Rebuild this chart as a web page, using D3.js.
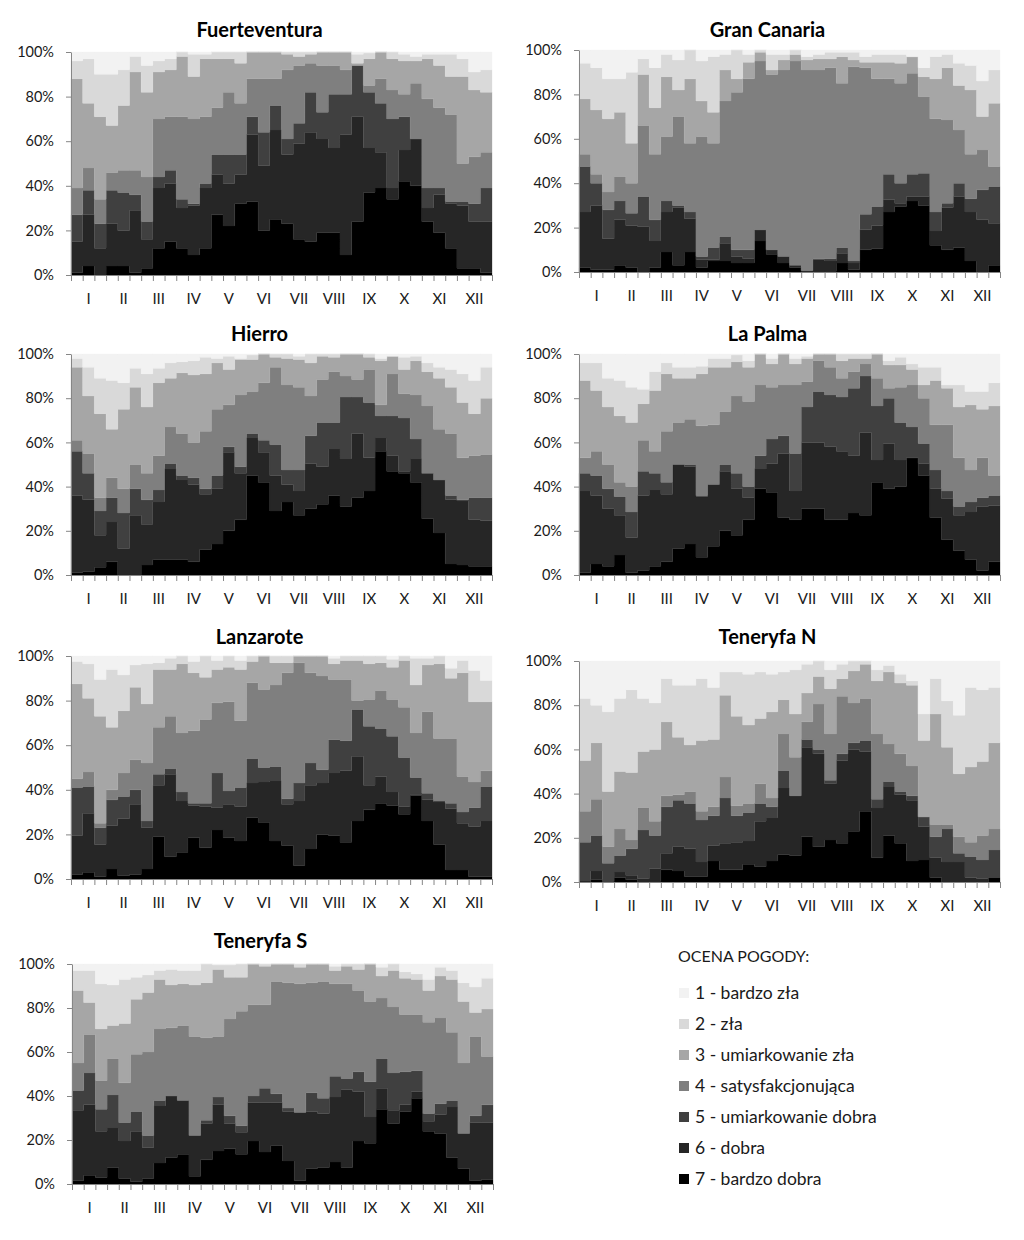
<!DOCTYPE html>
<html><head><meta charset="utf-8">
<script src="https://cdn.jsdelivr.net/npm/d3@7"></script>
<style>
body{margin:0;background:#fff;}
svg{display:block;font-family:Lato,"Open Sans",sans-serif;}
</style>
</head><body>
<svg id="chart" width="1024" height="1240"></svg>
<script>
// ---- tick labels & categories ----
const months = ["I","II","III","IV","V","VI","VII","VIII","IX","X","XI","XII"];
const yTicks = [0,20,40,60,80,100];
const categories = ["1 - bardzo zła","2 - zła","3 - umiarkowanie zła","4 - satysfakcjonująca","5 - umiarkowanie dobra","6 - dobra","7 - bardzo dobra"];
const colors = ["#f2f2f2","#d9d9d9","#a6a6a6","#7f7f7f","#404040","#262626","#000000"];

// ---- data: 36 dekads per island; cumulative share (%) from the bottom,
// rows = top of category 7, 6, 5, 4, 3, 2 (category 1 fills up to 100%) ----
const fuerteventura = [
 [1,4,0,4,4,1,3,12,15,12,9,12,27,22,32,33,20,25,23,16,15,19,19,9,24,37,39,34,42,40,24,19,12,3,3,1],
 [15,27,12,23,20,29,16,39,41,30,31,39,45,41,45,63,49,65,54,59,64,61,57,63,71,57,55,39,56,61,30,36,32,31,24,24],
 [27,38,23,38,37,36,24,44,47,34,32,41,54,54,54,71,64,76,61,68,82,73,81,81,94,82,77,70,71,61,39,39,33,33,32,39],
 [39,48,34,46,47,47,44,70,71,71,70,71,75,82,77,88,88,88,92,94,95,94,94,92,94,85,88,83,81,86,79,75,72,50,53,55],
 [88,77,71,67,76,91,82,91,92,98,89,97,97,97,95,100,100,100,99,98,99,100,100,100,95,97,100,97,96,96,97,94,89,89,83,82],
 [96,97,90,90,92,98,94,96,97,100,99,99,100,100,100,100,100,100,100,100,100,100,100,100,99,99.5,100,100,99,98,99,99,99,97,91,92]
];
const granCanaria = [
 [2,1,1,3,2,0,2,9,3,9,2,5,5,4,4,14,8,4,2,0.3,0.3,0.3,4,1,10,10.5,27,29.5,32,30,12,10,11,5,0,3],
 [27,30,15,23.5,21,20.5,14,27,29,24,5.5,5.5,13,7,6,19,10,7,3,0.6,5.5,5,8.5,4,19,21,32.5,31,34,34,18.5,29,34,27,23.5,22],
 [47.5,40,28,32,26.5,34,23.5,32,30,27,7,11,16,10,10,19,10,7,3,0.6,6,6,11,5,26,29.5,44,40,44,44.5,27,31,40,33,37,38.5],
 [53,44,36,43,40,66,53,61,70,58,61,58,77,81,87,95,89,91,95,91,91,92,85,92.5,92,87,87,85,89.5,79,69,68.5,64,53,55,47.5],
 [78,73,69,72,58,89,74,88,82,87,77,72,91,87,94.5,99,91,95.5,98,95.5,96,96,97,95.5,94.5,94.5,94.5,94,97,88,87,92,84,82,70,76],
 [94,92,87,87,90,96,92,98,95.5,100,95,97,98,100,98,100,98,98,100,97,98,99,99,99,97,98,98,98,97,92,97,98,94,93,86,91]
];
const hierro = [
 [1,1.5,3.5,6,0,0,4.5,7,7,7,6,11.5,14,20,25,45,42,29,33,27,30,32,36,31,35,38,56,47,46,42,25.5,19,5,4.5,4,4],
 [36,34,18,24,12,27,23,33,48,43,41,36.5,39,55.5,46,62,55.5,45,41,38,50.5,49,57,52.5,64,53,62,54,47,52.5,46,43,34,33.5,25,24.5],
 [56,46,29,35,28,39,34,38.5,50.5,45,44,39,45,58,49,64,61,59,47.5,47.5,63,69,69,80.5,80.5,78,72,72,71,61.5,46,43,36,34,35,35],
 [61,55,35,44,39,50,46,54,67,64,60,65,75,77,81.5,83,87,94,86,85,81,88.5,92,90,88.5,93,77,91,82,81.5,76.5,66,64,53,54,54.5],
 [94,81,73,66,75,85,76,87,89,91.5,90.5,91,96,93,97.5,97.5,100,98.5,98,97.5,96,99,98.5,100,100,98.5,97,99,93,97,92,89,85,78,73,80],
 [98,94,89,88,87,93.5,91,93.5,96,96.5,97,98.5,98,99,98,99.5,100,100,100,99,100,100,100,100,100,100,98,99,98.5,99,96,94,93,91,88,94]
];
const laPalma = [
 [1,5,4,9,1,2,4,6,12,14,8,13,20,18,25,39,37.5,26,25,30,30,25,25,28,27,42,39,40,53,45,26,16,11,7,2,6],
 [38,36,30,27,17,36,38.5,36.5,50,49,35.5,41,47,39,35,48,50.5,55,38,60,60,58,56,54,64.5,52,59.5,52,53,50.5,39,34.5,27,28.5,31,31.5],
 [46,45,39,35.5,28.5,47,46,42,50,50,36,41,50,46,40,54,61.5,63,55,76,83,81.5,80.5,84.5,90,76.5,80,69,67,59.5,47.5,38,31,33,35,36],
 [53,56,50,42,40,61,56,65,69,70.5,67.5,68,74,81,78.5,86,85,86,86,87.5,97,94,89,92,95.5,89,84.5,85,86,80,68,68,53,47.5,53,45],
 [88,83.5,76,72,69,77.5,83.5,91,89,89,91,94,94,96.5,94,100,95.5,100,95.5,98,100,100,97,98,98,100,95,95,93,86,88,84.5,76,77,75,76.5],
 [96,96,89,88,85,84,92,96,94,94,94.5,98,98,99.5,97,100,98,100,98,99,100,100,100,100,100,100,97,98.5,95.5,94,94,86,86,83,83,87]
];
const lanzarote = [
 [2,3,1,4.5,1.5,2,4.5,19,10,12,18.5,14,22,18.5,17,27.5,25.5,17,15,6,13.5,20,19.5,16.5,26,31,34,33,29,37.5,26,15.5,4,4,1,1],
 [19.5,29.5,15.5,24,27,33.5,23,42,47,35,33,32.5,32,33.5,32.5,43,43.5,44,33.5,35,42,43,47.5,48.5,55,42,46,39,32.5,38,35.5,34.5,31.5,25,23.5,26],
 [41,41.5,23,35.5,37,40,26,47,49.5,39,34,34,47.5,39.5,41,54,50,50.5,36,43,52,49,62.5,62,76,68.5,67.5,64,54.5,45.5,38.5,35,34,30,32,41.5],
 [45,48,25,40,47.5,53.5,52,68,73,65.5,66.5,71.5,79,79.5,71,88,85,87,92.5,97,92.5,91,89.5,89.5,80,80.5,84.5,80.5,77,65.5,75,63,63,46,43.5,48.5],
 [87.5,81,73,68,75.5,86,78.5,94,94,96.5,92.5,90.5,94,95,94,97.5,100,97,97,100,100,100,96.5,98,98,96.5,97,95,98,87,96,96.5,90,92.5,79.5,79.5],
 [97.5,96.5,89.5,94,91.5,96,96.5,97,99,100,97.5,100,98,100,98,100,100,100,100,100,100,100,99,100,100,100,100,98.5,100,99,99,100,94.5,98,93.5,89]
];
const teneryfaN = [
 [0,1,0,2,1,0,0.3,5.5,5,2.5,2.5,9.5,5.5,5.5,8,7,9.5,12.5,12,20.5,16,19,17.5,23,32,11,21,17.5,9.5,10,2,0,0,0,0,2],
 [0.5,5,0.3,4.5,3,1.5,6,13,16,15,9,16.5,17.5,18,18.5,27.5,29,42.5,39,61,58,44.5,55,60,59,33.5,43,39.5,37,25,11,9,9,2,1.5,2],
 [18,21,8.5,12,15,23.5,21,34,37,35.5,28,30,38,30,31.5,35.5,34,50.5,39,64.5,60,46,58,63,64,37.5,45.5,41,39,29.5,20.5,24,13,11.5,10,14.5],
 [32,37.5,16,24,19,33.7,27.5,39,39.5,41,32,34,47.5,34.5,35.5,44.5,38,67,56.5,72.5,80.5,67,84,81,83,67,62.5,58,52.5,29.5,26,26,20.5,18,21,24],
 [55,63,41,50,49.5,59,60,72.5,65.5,62,64,64.5,84.5,75,71,74,77,82.5,76,85.5,93,87.5,92,95.5,98.5,91,95,90,89,64,76,61,49,52,54.5,63],
 [83,80,77,83,87,83,81,92,89,89,92,88,95,95,94,95,94,95,96,98.5,100,96,98.5,100,100,96,98,94,91,76,92,82,75.5,88,87,88]
];
const teneryfaS = [
 [1.5,4,3,7.5,2.5,1,2.5,9.5,12,13.5,3.5,11,15,16,13.5,19.5,14.5,17.5,10.5,1.5,7,7.5,10,7.5,19.5,18.5,34,27.5,33,39,24,23,12,7,1.5,2],
 [33.5,36,24,25.5,19.5,24,16.5,35.5,40,38,22,27.5,36,27.5,23.5,37,37,37,33,32.5,33,32,39.5,43,42,30.5,43.5,33.5,36,42,28.5,31.5,35,23,28,28],
 [42.5,50.5,34,40.5,28,33,22,38,40,38,22,29,39.5,31,26.5,40,43.5,41,34.5,32.5,41.5,39,49,48,51,46.5,57,50.5,51,51.5,32,36.5,38,23,31,36],
 [55,68,47,57,46,59,60,70.5,71,72,67,66.5,67,75,78.5,81.5,81.5,92,91.5,91,91.5,92,91,91,88,83,84.5,80.5,77,77,73.5,75.5,69,55,67,58],
 [88,82.5,70.5,72,73,84,87,93,90.5,91,90.5,91.5,97.5,94,94,100,99,100,100,98.5,100,100,97,99,97.5,100,94.5,97,93.5,93,88,94.5,93,83,78,79.5],
 [97,97,91,90.5,93,94,95,97,97.5,97,97,100,99.5,99.5,100,100,100,100,100,100,100,100,99,100,100,100,98.5,100,96.5,95.5,93,98.5,97,91.5,89.5,93.5]
];

// ---- layout (positions only) ----
const panels = [
 {title:"Fuerteventura", data:fuerteventura, x0:71,  x1:492,  yt:52,  yb:275, ty:37},
 {title:"Gran Canaria",  data:granCanaria,   x0:579, x1:1000, yt:50,  yb:272, ty:37},
 {title:"Hierro",        data:hierro,        x0:71,  x1:492,  yt:354, yb:575, ty:341},
 {title:"La Palma",      data:laPalma,       x0:579, x1:1000, yt:354, yb:575, ty:341},
 {title:"Lanzarote",     data:lanzarote,     x0:71,  x1:492,  yt:656, yb:879, ty:644},
 {title:"Teneryfa N",    data:teneryfaN,     x0:579, x1:1000, yt:661, yb:882, ty:644},
 {title:"Teneryfa S",    data:teneryfaS,     x0:72,  x1:493,  yt:964, yb:1184,ty:948}
];

const svg = d3.select("#chart");
const keys = ["7","6","5","4","3","2","1"];
const colorOf = k => colors[+k - 1];
const axisColor = "#868686";

panels.forEach(p => {
  const n = p.data[0].length;
  const x = d3.scaleLinear().domain([0, n]).range([p.x0, p.x1]);
  const y = d3.scaleLinear().domain([0, 100]).range([p.yb, p.yt]);
  // derive shares of each category from cumulative boundaries
  const rows = d3.range(n).map(i => {
    const c = p.data.map(r => r[i]);
    const bounds = [0, ...c, 100];
    const o = {i};
    keys.forEach((k, j) => { o[k] = Math.max(0, bounds[j+1] - d3.max(bounds.slice(0, j+1))); });
    return o;
  });
  const series = d3.stack().keys(keys)(rows);
  const area = d3.area()
    .x(d => x(d.i))
    .y0(d => y(d.v0))
    .y1(d => y(d.v1))
    .curve(d3.curveStepAfter);
  const g = svg.append("g");
  series.forEach(s => {
    const pts = s.map((d, i) => ({i, v0: d[0], v1: d[1]}));
    pts.push({i: n, v0: s[n-1][0], v1: s[n-1][1]});
    g.append("path").attr("d", area(pts)).attr("fill", colorOf(s.key))
      .attr("stroke", colorOf(s.key)).attr("stroke-width", 0.3);
  });

  // y axis
  const ya = g.append("g").attr("transform", `translate(${p.x0},0)`)
    .call(d3.axisLeft(y).tickValues(yTicks).tickFormat(d => d + "%").tickSize(5).tickSizeOuter(0).tickPadding(12));
  ya.select(".domain").attr("stroke", axisColor);
  ya.selectAll(".tick line").attr("stroke", axisColor);
  ya.selectAll(".tick text").attr("font-size", 14.5).attr("fill", "#1a1a1a").attr("font-family", "Lato, sans-serif");

  // x axis
  const xa = g.append("g").attr("transform", `translate(0,${p.yb})`)
    .call(d3.axisBottom(x).tickValues(d3.range(0, n + 1)).tickFormat("").tickSize(6).tickSizeOuter(0));
  xa.select(".domain").attr("stroke", axisColor);
  xa.selectAll(".tick line").attr("stroke", axisColor);
  months.forEach((m, k) => {
    g.append("text").attr("x", x(k * 3 + 1.5)).attr("y", p.yb + 29)
      .attr("text-anchor", "middle").attr("font-size", 15).attr("fill", "#1a1a1a").text(m);
  });

  // title
  g.append("text").attr("x", (p.x0 + p.x1) / 2 - 22).attr("y", p.ty)
    .attr("text-anchor", "middle").attr("font-size", 20).attr("font-weight", "bold")
    .attr("fill", "#000").text(p.title);
});

// legend
const lg = svg.append("g");
lg.append("text").attr("x", 678).attr("y", 962).attr("font-size", 16).attr("fill", "#1a1a1a").text("OCENA POGODY:");
categories.forEach((c, i) => {
  const yy = 993 + i * 31;
  lg.append("rect").attr("x", 679).attr("y", yy - 5).attr("width", 10).attr("height", 10).attr("fill", colors[i]);
  lg.append("text").attr("x", 695).attr("y", yy + 6).attr("font-size", 17.5).attr("fill", "#1a1a1a").text(c);
});
</script>
</body></html>
